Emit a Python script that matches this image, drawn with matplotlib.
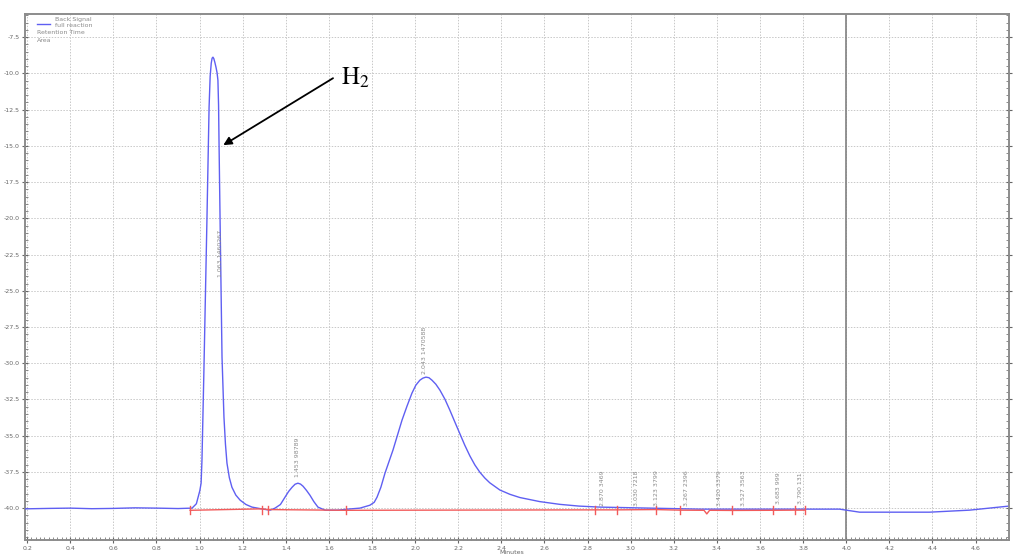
import matplotlib
matplotlib.use("Agg")
import matplotlib.pyplot as plt
from matplotlib.ticker import MultipleLocator

plt.rcParams["mathtext.fontset"] = "stix"

# Detector trace (minutes, signal)
time_min = [0.19, 0.30, 0.40, 0.50, 0.60, 0.70, 0.80, 0.90, 0.965, 0.985, 0.993,
            1.001, 1.007, 1.011, 1.020, 1.034, 1.044, 1.049, 1.054, 1.058, 1.062,
            1.066, 1.071, 1.076, 1.081, 1.085, 1.088, 1.090, 1.095, 1.104, 1.113,
            1.120, 1.127, 1.138, 1.150, 1.168, 1.188, 1.215, 1.243, 1.294,
            1.327, 1.350, 1.375, 1.396, 1.413, 1.429, 1.443, 1.456, 1.468, 1.480,
            1.496, 1.512, 1.530, 1.549, 1.582,
            1.642, 1.688, 1.744, 1.790, 1.810, 1.823, 1.841, 1.860, 1.897, 1.939,
            1.962, 1.985, 2.003, 2.022, 2.036, 2.050, 2.064, 2.078, 2.096, 2.115,
            2.138, 2.161, 2.184, 2.207, 2.230, 2.254, 2.277, 2.300, 2.323, 2.346,
            2.393, 2.440, 2.486, 2.578, 2.671, 2.760, 2.857, 3.088, 3.320, 3.598,
            3.969, 4.062, 4.386, 4.572, 4.748]
signal = [-40.05, -40.02, -40.00, -40.04, -40.02, -39.98, -40.00, -40.03, -40.00, -39.70, -39.25,
          -38.80, -38.28, -36.69, -30.50, -20.13, -12.33, -10.20, -9.30, -8.95, -8.88,
          -8.98, -9.25, -9.57, -9.95, -10.47, -12.20, -14.61, -20.13, -29.58, -33.72,
          -35.60, -36.90, -37.90, -38.56, -39.10, -39.45, -39.75, -39.93, -40.07,
          -40.14, -40.00, -39.75, -39.25, -38.85, -38.56, -38.35, -38.28, -38.34, -38.49,
          -38.78, -39.11, -39.55, -39.93, -40.14,
          -40.14, -40.07, -40.00, -39.80, -39.60, -39.25, -38.56, -37.59, -36.00, -33.93,
          -32.97, -32.07, -31.52, -31.17, -31.03, -30.96, -31.00, -31.17, -31.45, -31.86,
          -32.48, -33.24, -34.05, -34.85, -35.65, -36.40, -37.02, -37.52, -37.92, -38.25,
          -38.75, -39.05, -39.27, -39.55, -39.74, -39.86, -39.93, -40.00, -40.07, -40.07,
          -40.07, -40.28, -40.28, -40.14, -39.87]

# Integration baseline and its boundary marks
base_time = [0.956, 1.289, 1.317, 1.679, 2.833, 2.935, 3.116, 3.227, 3.340, 3.353, 3.366,
             3.468, 3.658, 3.760, 3.807]
base_signal = [-40.15, -40.05, -40.10, -40.15, -40.12, -40.12, -40.10, -40.14, -40.15, -40.40, -40.15,
               -40.16, -40.15, -40.14, -40.14]
boundaries = [0.956, 1.289, 1.317, 1.679, 2.833, 2.935, 3.116, 3.227, 3.468, 3.658, 3.760, 3.807]

# Peak labels: retention time, area, label height
peak_rt = [1.063, 1.453, 2.043, 2.870, 3.030, 3.123, 3.267, 3.420, 3.527, 3.683, 3.790]
peak_area = [1460267, 98789, 1470588, 3469, 7218, 3799, 2396, 3379, 3563, 999, 131]
label_pos = [1.095, 1.452, 2.045, 2.870, 3.028, 3.121, 3.260, 3.413, 3.524, 3.686, 3.788]
label_y = [-22.4, -36.5, -29.1, -38.6, -38.6, -38.6, -38.6, -38.6, -38.6, -38.6, -38.6]

W, H = 1017, 557
fig = plt.figure(figsize=(W / 100, H / 100), dpi=100)
ax = fig.add_axes([25 / W, 1 - 540 / H, (1009 - 25) / W, (540 - 14) / H])

blue = "#5f5ff2"
red = "#f25a5a"
grey_txt = "#8a8a8a"

ax.plot(time_min, signal, color=blue, lw=1.0, zorder=3)
ax.plot(base_time, base_signal, color=red, lw=1.0, zorder=4)
for b in boundaries:
    ax.plot([b, b], [-40.42, -39.85], color=red, lw=1.0, zorder=4)

ax.axvline(4.0, color="#808080", lw=1.2, zorder=2)

for rt, area, xp, yp in zip(peak_rt, peak_area, label_pos, label_y):
    ax.text(xp, yp, f"{rt:.3f} {area}", rotation=90, fontsize=4.5,
            color=grey_txt, ha="center", va="center", zorder=5)

ax.annotate("", xy=(1.110, -14.95), xytext=(1.619, -10.33),
            arrowprops=dict(arrowstyle="-|>", color="black", lw=1.3,
                            mutation_scale=12, shrinkA=0, shrinkB=0))
ax.text(1.655, -10.33, r"$\mathrm{H}_2$", fontsize=18,
        ha="left", va="center", color="black")

ax.set_xlim(0.19, 4.755)
ax.set_ylim(-42.2, -5.9)
ax.xaxis.set_major_locator(MultipleLocator(0.2))
ax.xaxis.set_minor_locator(MultipleLocator(0.02))
ax.yaxis.set_major_locator(MultipleLocator(2.5))
ax.yaxis.set_minor_locator(MultipleLocator(0.5))
ax.xaxis.set_major_formatter(plt.FuncFormatter(lambda v, p: f"{v:.1f}"))
ax.yaxis.set_major_formatter(plt.FuncFormatter(lambda v, p: f"{v:.1f}"))

ax.grid(True, which="major", color="#c8c8c8", ls=(0, (1.5, 1.5)), lw=0.7)
ax.tick_params(which="major", direction="inout", length=4, width=0.8,
               labelsize=4.5, labelcolor="#666666", color="#666666",
               right=True, pad=2)
ax.tick_params(which="minor", direction="in", length=2, width=0.6,
               color="#777777", right=True)
for s in ax.spines.values():
    s.set_color("#8c8c8c")
    s.set_linewidth(1.4)

# Legend block
ax.plot([0.245, 0.305], [-6.6, -6.6], color=blue, lw=1.0,
        transform=ax.transData, clip_on=False)
fig.text(55 / W, 1 - 20 / H, "Back Signal", fontsize=4.5, color=grey_txt, va="center")
fig.text(55 / W, 1 - 25.5 / H, "full reaction", fontsize=4.5, color=grey_txt, va="center")
fig.text(37 / W, 1 - 32 / H, "Retention Time", fontsize=4.5, color=grey_txt, va="center")
fig.text(37 / W, 1 - 41 / H, "Area", fontsize=4.5, color=grey_txt, va="center")

fig.text(512 / W, 1 - 553 / H, "Minutes", fontsize=4.5, color="#666666",
         ha="center", va="center")

fig.savefig("out.png", dpi=100)
